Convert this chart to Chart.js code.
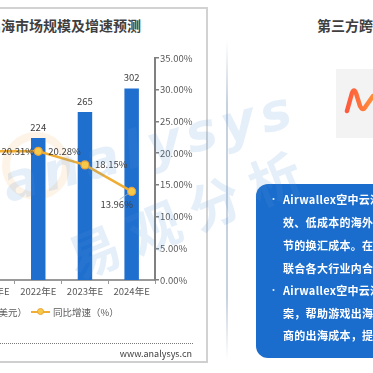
<!DOCTYPE html>
<html>
<head>
<meta charset="utf-8">
<script src="https://cdn.jsdelivr.net/npm/chart.js@4.4.0/dist/chart.umd.min.js"></script>
<style>
  html, body { margin: 0; padding: 0; background: #fff; }
  #page { position: relative; width: 373px; height: 373px; overflow: hidden; background: #fff;
          font-family: "Noto Sans CJK SC", "Noto Sans", sans-serif; color: #404040; }
  .abs { position: absolute; white-space: nowrap; }
  #chart-wrap { position: absolute; left: -37px; top: 0; width: 232px; height: 373px; }
  .wm { position: absolute; white-space: nowrap; color: rgba(80, 150, 215, 0.15); font-weight: bold;
        transform-origin: left bottom; pointer-events: none; }
  .box-line { position: absolute; left: 283px; white-space: nowrap; color: #fff; font-weight: bold;
              font-size: 11px; letter-spacing: 0.3px; line-height: 14px; }
  .bullet { position: absolute; left: 269px; color: #dfe9f7; font-size: 9px; line-height: 14px; }
</style>
</head>
<body>
<div id="page">
  <!-- left panel frame -->
  <div class="abs" style="left:-10px; top:7px; width:217px; height:2px; background:#d2d2d2;"></div>
  <div class="abs" style="left:206px; top:7px; width:2px; height:356px; background:#d2d2d2;"></div>
  <div class="abs" style="left:-10px; top:361px; width:218px; height:2px; background:#cfcfcf;"></div>

  <div class="abs" style="right:232px; top:15px; font-size:14px; font-weight:bold; color:#3f3f3f;">全球游戏出海市场规模及增速预测</div>

  <!-- faint logo ring of the watermark -->
  <div class="abs" style="left:2px; top:132px; width:52px; height:52px; border-radius:50%; border:8px solid rgba(245,160,70,0.13);"></div>

  <div id="chart-wrap"><canvas id="marketChart"></canvas></div>

  <!-- legend -->
  <div class="abs" style="right:346px; top:305px; font-size:9.5px; color:#595959; line-height:14px;">
    <span style="display:inline-block; width:8px; height:8px; background:#1f6fcf; margin-right:3px;"></span>市场规模（亿美元）
  </div>
  <div class="abs" style="left:31px; top:311px; width:19px; height:2px; background:#f0ad33;"></div>
  <div class="abs" style="left:37px; top:308px; width:5px; height:5px; border-radius:50%; background:#f7c948; border:1px solid #e9a23b;"></div>
  <div class="abs" style="left:53px; top:305px; font-size:9.5px; color:#595959; line-height:14px;">同比增速（%）</div>

  <div class="abs" style="left:-5px; top:343px; width:198px; border-top:1.5px dotted #7a7a7a;"></div>
  <div class="abs" style="right:181px; top:347px; font-size:9px; color:#404040;">www.analysys.cn</div>

  <!-- right panel -->
  <div class="abs" style="left:226px; top:40px; width:2px; height:320px;
       background:linear-gradient(to bottom, rgba(200,210,222,0), #c6d1dd 20%, #c6d1dd 80%, rgba(200,210,222,0));"></div>
  <div class="abs" style="left:317px; top:15px; font-size:14px; font-weight:bold; color:#3f3f3f;">第三方跨境支付服务商案例</div>
  <div class="abs" style="left:336px; top:69px; width:60px; height:69px; background:#f3f3f3;"></div>
  <svg class="abs" style="left:0; top:0;" width="373" height="373">
    <defs>
      <linearGradient id="lg" x1="0" y1="0" x2="1" y2="0">
        <stop offset="0" stop-color="#ff5a3d"/><stop offset="1" stop-color="#ff8f3a"/>
      </linearGradient>
    </defs>
    <path d="M347 111 L352 93 Q354 88 356 93 L360 106 Q363 112 366 106 L373 96" fill="none"
          stroke="url(#lg)" stroke-width="4.5" stroke-linecap="round" stroke-linejoin="round"/>
  </svg>

  <div class="abs" style="left:256px; top:184px; width:140px; height:174px; border-radius:12px; background:#1b6dcd;"></div>
  <div class="bullet" style="top:192px;">•</div>
  <div class="box-line" style="top:192px;">Airwallex空中云汇为游戏出海企业提供高</div>
  <div class="box-line" style="top:215px;">效、低成本的海外收款方案，节省各环</div>
  <div class="box-line" style="top:238px;">节的换汇成本。在此基础上，平台还</div>
  <div class="box-line" style="top:261px;">联合各大行业内合作伙伴</div>
  <div class="bullet" style="top:283px;">•</div>
  <div class="box-line" style="top:283px;">Airwallex空中云汇推出一站式解决方</div>
  <div class="box-line" style="top:306px;">案，帮助游戏出海企业降低</div>
  <div class="box-line" style="top:328px;">商的出海成本，提升效率</div>

  <!-- watermark -->
  <div class="wm" style="left:10px; top:158px; font-size:52px; line-height:52px; letter-spacing:6px;
       font-style:italic; font-family:'DejaVu Sans'; transform:rotate(-15deg);">analysys</div>
  <div class="wm" style="left:79px; top:232px; font-size:52px; line-height:52px; letter-spacing:13px;
       transform:rotate(-22deg);">易观分析</div>
</div>

<script>
const categories = ['2021年E', '2022年E', '2023年E', '2024年E'];
const marketSize = [186, 224, 265, 302];
const growthRate = [20.31, 20.28, 18.15, 13.96];
const rateTicks = [0, 5, 10, 15, 20, 25, 30, 35];

const barBlue = '#1f6fcf';
const lineGold = '#f0ad33';

// value labels on top of bars and next to line points
const valueLabels = {
    id: 'valueLabels',
    afterDatasetsDraw(chart) {
        const ctx = chart.ctx;
        ctx.save();
        ctx.font = '9.5px "Noto Sans CJK SC", "Noto Sans", sans-serif';
        ctx.fillStyle = '#404040';
        ctx.textBaseline = 'middle';

        ctx.textAlign = 'center';
        chart.getDatasetMeta(0).data.forEach((bar, i) => {
            ctx.fillText(marketSize[i], bar.x, bar.y - 11);
        });

        const pts = chart.getDatasetMeta(1).data;
        pts.forEach((pt, i) => {
            const txt = growthRate[i].toFixed(2) + '%';
            if (i === pts.length - 1) {
                // last label sits below-left with a small leader line
                ctx.strokeStyle = '#9fb4c8';
                ctx.lineWidth = 0.8;
                ctx.beginPath();
                ctx.moveTo(pt.x - 3, pt.y + 2);
                ctx.lineTo(pt.x - 12, pt.y + 8);
                ctx.stroke();
                ctx.textAlign = 'center';
                ctx.fillText(txt, pt.x - 15, pt.y + 13);
            } else {
                ctx.textAlign = 'left';
                ctx.fillText(txt, pt.x + 10, pt.y);
            }
        });
        ctx.restore();
    }
};

new Chart(document.getElementById('marketChart'), {
    type: 'bar',
    data: {
        labels: categories,
        datasets: [
            { type: 'bar', label: '市场规模（亿美元）', data: marketSize, backgroundColor: barBlue,
              yAxisID: 'y', categoryPercentage: 1, barPercentage: 0.31, order: 2 },
            { type: 'line', label: '同比增速（%）', data: growthRate, yAxisID: 'y2',
              borderColor: lineGold, borderWidth: 2.5, tension: 0,
              pointRadius: 4, pointBackgroundColor: '#f7c948', pointBorderColor: '#e9a23b', pointBorderWidth: 1.2,
              order: 1 }
        ]
    },
    options: {
        responsive: true, maintainAspectRatio: false, animation: false,
        layout: { padding: { top: 58, left: 0, right: 0, bottom: 63 } },
        plugins: { legend: { display: false }, tooltip: { enabled: false } },
        scales: {
            x: {
                offset: true,
                grid: { display: true, drawOnChartArea: false, drawTicks: true, tickLength: 4, color: '#9a9a9a', offset: true },
                border: { display: true, color: '#9a9a9a', width: 2 },
                ticks: { color: '#595959', font: { size: 9.5, family: '"Noto Sans CJK SC", "Noto Sans", sans-serif' }, padding: 2, maxRotation: 0 },
                afterFit: (axis) => { axis.height = 30; }
            },
            y: { display: false, min: 0, max: 350 },
            y2: {
                position: 'right', min: 0, max: 35,
                afterBuildTicks: (axis) => { axis.ticks = rateTicks.map(v => ({ value: v })); },
                grid: { drawOnChartArea: false, drawTicks: true, tickLength: 4, color: '#808080', lineWidth: 1.5 },
                border: { display: true, color: '#808080', width: 2 },
                ticks: { color: '#595959', padding: 1, font: { size: 9.5, family: '"Noto Sans CJK SC", "Noto Sans", sans-serif' },
                         callback: (v) => v.toFixed(2) + '%' },
                afterFit: (axis) => { axis.width = 40; }
            }
        }
    },
    plugins: [valueLabels]
});
</script>
</body>
</html>
